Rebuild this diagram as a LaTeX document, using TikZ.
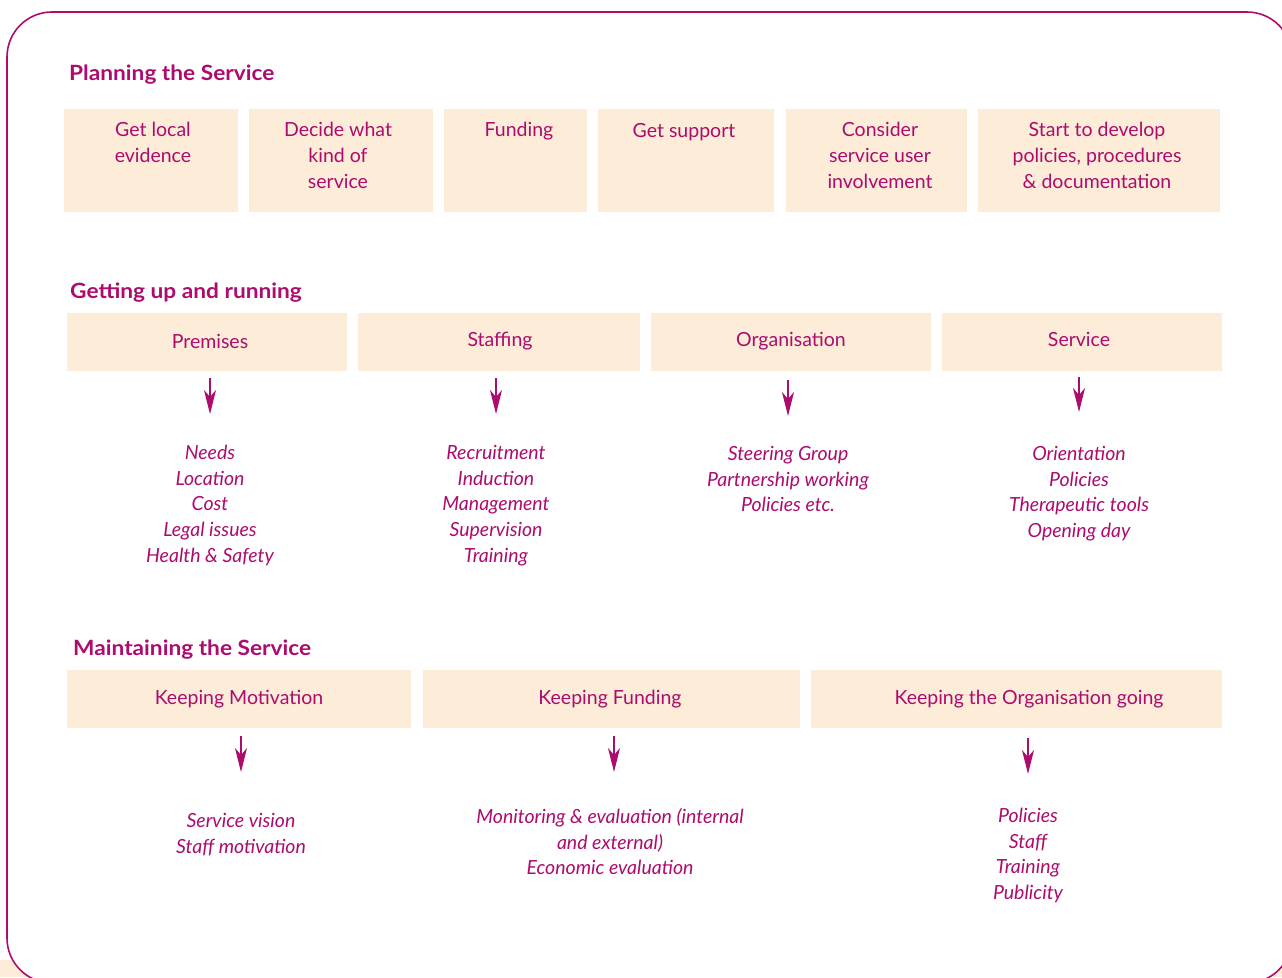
\documentclass[tikz,border=0pt]{standalone}
\usepackage{fontspec}
\setmainfont{Lato}
\usetikzlibrary{arrows.meta}
\definecolor{plum}{RGB}{172,12,110}
\definecolor{peach}{RGB}{253,236,216}
\newcommand{\headtext}[1]{\scalebox{1.08}[1]{#1}}
\tikzset{
  panel/.style={draw=plum, line width=1.6pt, fill=white, rounded corners=45pt},
  heading/.style={text=plum, font=\fontsize{21}{24}\selectfont\bfseries, anchor=base west, inner sep=0pt},
  box/.style={fill=peach, anchor=north west, inner sep=0pt},
  boxtext/.style={text=plum, font=\fontsize{19.5}{26}\selectfont, align=center, inner sep=0pt},
  itemlist/.style={text=plum, font=\fontsize{19.5}{25.7}\selectfont\itshape, align=center, inner sep=0pt, anchor=north},
  arr/.style={draw=plum, line width=1.5pt, -{Stealth[length=24pt,width=12pt,inset=7pt]}}
}
\begin{document}
\begin{tikzpicture}[x=1pt,y=-1pt]
\useasboundingbox (0,0) rectangle (1282,977);
% page background and outlined panel
\fill[peach] (0,960) rectangle (1282,977);
\path[panel] (7,12) rectangle (1292,983);

% ---------- Planning the Service ----------
\node[heading] (h1) at (69,80) {\headtext{Planning the Service}};
\node[box, minimum width=174pt, minimum height=103pt] (p1) at (64,109) {};
\node[box, minimum width=184pt, minimum height=103pt] (p2) at (249,109) {};
\node[box, minimum width=143pt, minimum height=103pt] (p3) at (444,109) {};
\node[box, minimum width=176pt, minimum height=103pt] (p4) at (598,109) {};
\node[box, minimum width=181pt, minimum height=103pt] (p5) at (786,109) {};
\node[box, minimum width=242pt, minimum height=103pt] (p6) at (978,109) {};
\node[boxtext, anchor=north] (p1t) at (153,122) {Get local\\evidence};
\node[boxtext, anchor=north] (p2t) at (338,122) {Decide what\\kind of\\service};
\node[boxtext, anchor=north] (p3t) at (519,122) {Funding};
\node[boxtext, anchor=north] (p4t) at (684,123) {Get support};
\node[boxtext, anchor=north] (p5t) at (880,122) {Consider\\service user\\involvement};
\node[boxtext, anchor=north] (p6t) at (1097,122) {Start to develop\\policies, procedures\\\& documentation};

% ---------- Getting up and running ----------
\node[heading] (h2) at (70,298) {\headtext{Getting up and running}};
\node[box, minimum width=280pt, minimum height=58pt] (g1) at (67,313) {};
\node[box, minimum width=282pt, minimum height=58pt] (g2) at (358,313) {};
\node[box, minimum width=280pt, minimum height=58pt] (g3) at (651,313) {};
\node[box, minimum width=280pt, minimum height=58pt] (g4) at (942,313) {};
\node[boxtext, anchor=base] (g1t) at (210,348) {Premises};
\node[boxtext, anchor=base] (g2t) at (500,346) {Staffing};
\node[boxtext, anchor=base] (g3t) at (791,346) {Organisation};
\node[boxtext, anchor=base] (g4t) at (1079,346) {Service};

\node[itemlist] (g1l) at (210,445) {Needs\\Location\\Cost\\Legal issues\\Health \& Safety};
\node[itemlist] (g2l) at (496,445) {Recruitment\\Induction\\Management\\Supervision\\Training};
\node[itemlist] (g3l) at (788,446) {Steering Group\\Partnership working\\Policies etc.};
\node[itemlist] (g4l) at (1079,446) {Orientation\\Policies\\Therapeutic tools\\Opening day};

\draw[arr, shorten <=7pt, shorten >=31pt] (g1.south -| g1l.north) -- (g1l.north);
\draw[arr, shorten <=7pt, shorten >=31pt] (g2.south -| g2l.north) -- (g2l.north);
\draw[arr, shorten <=9pt, shorten >=30pt] (g3.south -| g3l.north) -- (g3l.north);
\draw[arr, shorten <=6pt, shorten >=34pt] (g4.south -| g4l.north) -- (g4l.north);

% ---------- Maintaining the Service ----------
\node[heading] (h3) at (73,655) {\headtext{Maintaining the Service}};
\node[box, minimum width=344pt, minimum height=58pt] (m1) at (67,670) {};
\node[box, minimum width=377pt, minimum height=58pt] (m2) at (423,670) {};
\node[box, minimum width=411pt, minimum height=58pt] (m3) at (811,670) {};
\node[boxtext, anchor=base] (m1t) at (239,704) {Keeping Motivation};
\node[boxtext, anchor=base] (m2t) at (610,704) {Keeping Funding};
\node[boxtext, anchor=base] (m3t) at (1029,704) {Keeping the Organisation going};

\node[itemlist] (m1l) at (241,813) {Service vision\\Staff motivation};
\node[itemlist] (m2l) at (610,808) {Monitoring \& evaluation (internal\\and external)\\Economic evaluation};
\node[itemlist] (m3l) at (1028,808) {Policies\\Staff\\Training\\Publicity};
\coordinate (m2a) at (614,808);

\draw[arr, shorten <=8pt, shorten >=41pt] (m1.south -| m1l.north) -- (m1l.north);
\draw[arr, shorten <=8pt, shorten >=36pt] (m2.south -| m2a) -- (m2a);
\draw[arr, shorten <=10pt, shorten >=34pt] (m3.south -| m3l.north) -- (m3l.north);
\end{tikzpicture}
\end{document}
